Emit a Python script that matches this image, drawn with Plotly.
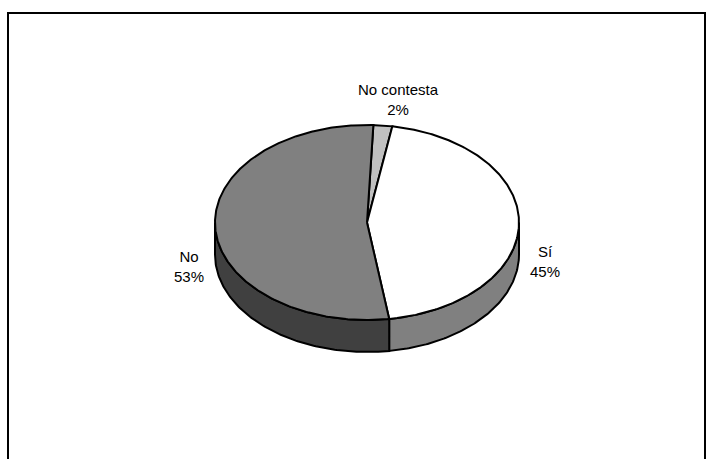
import numpy as np
import plotly.graph_objects as go

# Survey answers and their shares (percent)
categories = ["No contesta", "Sí", "No"]
shares = [2, 45, 53]

# Face colours of each slice and the shaded colour of its rim
top_colors = ["#C0C0C0", "#FFFFFF", "#808080"]
side_colors = ["#606060", "#808080", "#404040"]

W, H = 715, 459

# Geometry of the tilted pie (drawing units = pixels)
CX, CY = 367.0, 222.5
RX, RY = 152.0, 97.5
DEPTH = 32.0
START_DEG = 2.4  # first slice starts just right of 12 o'clock, clockwise


def ellipse(theta_deg, dy=0.0):
    t = np.radians(theta_deg)
    return CX + RX * np.sin(t), CY - RY * np.cos(t) + dy


fig = go.Figure()

edges = START_DEG + np.concatenate([[0], np.cumsum(shares)]) * 3.6

# Rim (front half only: angles 90..270 face the viewer)
for i, cat in enumerate(categories):
    a, b = max(edges[i], 90.0), min(edges[i + 1], 270.0)
    if b <= a:
        continue
    th = np.linspace(a, b, 120)
    x_top, y_top = ellipse(th)
    x_bot, y_bot = ellipse(th[::-1], DEPTH)
    xs = np.concatenate([x_top, x_bot, x_top[:1]])
    ys = np.concatenate([y_top, y_bot, y_top[:1]])
    fig.add_trace(go.Scatter(
        x=xs, y=ys, mode="lines", fill="toself",
        fillcolor=side_colors[i], line=dict(color="black", width=2),
        hoverinfo="skip", showlegend=False,
    ))

# Top faces
for i, cat in enumerate(categories):
    th = np.linspace(edges[i], edges[i + 1], max(8, int(shares[i] * 6)))
    xa, ya = ellipse(th)
    xs = np.concatenate([[CX], xa, [CX]])
    ys = np.concatenate([[CY], ya, [CY]])
    fig.add_trace(go.Scatter(
        x=xs, y=ys, mode="lines", fill="toself",
        fillcolor=top_colors[i], line=dict(color="black", width=2),
        hoverinfo="skip", showlegend=False, name=cat,
    ))

# Outside labels placed around each slice's middle angle
annotations = []
for i, cat in enumerate(categories):
    mid = (edges[i] + edges[i + 1]) / 2
    t = np.radians(mid)
    lx = CX + (RX + 26) * np.sin(t) + 13 * np.cos(t) ** 2
    ly = CY - (RY + 27) * np.cos(t) + 38 * np.sin(t) ** 2
    annotations.append(dict(
        x=lx, y=ly, xref="x", yref="y", showarrow=False,
        text=f"{cat}<br>{shares[i]}%", align="center",
        xanchor="center", yanchor="middle",
        font=dict(family="Liberation Sans, Arial, sans-serif", size=15, color="black"),
    ))

# Chart-area border (bottom edge runs past the page)
shapes = [dict(type="rect", xref="x", yref="y", x0=8, y0=13, x1=705, y1=H + 20,
               line=dict(color="black", width=2), fillcolor="rgba(0,0,0,0)", layer="below")]

fig.update_layout(
    width=W, height=H,
    margin=dict(l=0, r=0, t=0, b=0),
    paper_bgcolor="white", plot_bgcolor="white",
    xaxis=dict(range=[0, W], visible=False, fixedrange=True),
    yaxis=dict(range=[H, 0], visible=False, fixedrange=True),
    annotations=annotations, shapes=shapes,
    showlegend=False,
)

fig.write_html("out.html", config={"displayModeBar": False})
